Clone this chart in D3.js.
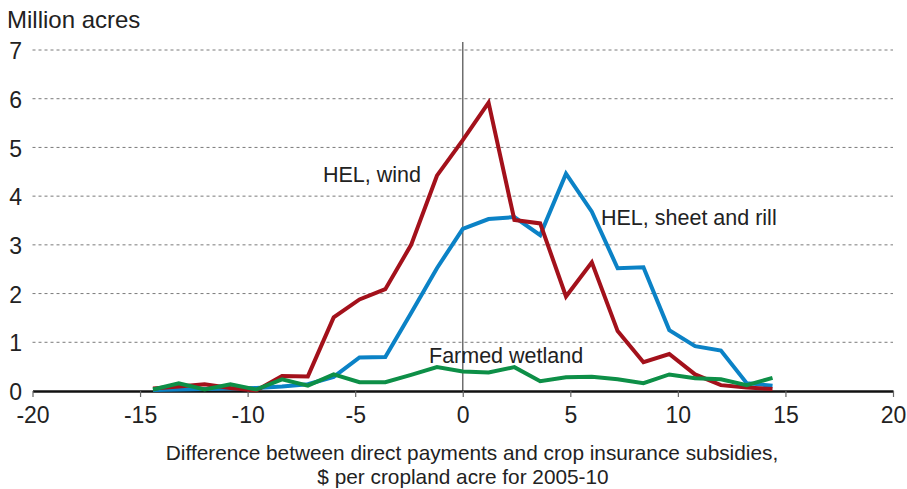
<!DOCTYPE html>
<html>
<head>
<meta charset="utf-8">
<script src="https://cdn.jsdelivr.net/npm/d3@7"></script>
<style>
    body { margin: 0; background: #fff; }
    svg { display: block; font-family: "Liberation Sans", Arial, sans-serif; }
</style>
</head>
<body>
<div id="chart"></div>
<script>
// bins of $1.2 per acre, from -14.4 to 14.4
const binIndex = d3.range(-12, 13);
const xValues = binIndex.map(k => +(k * 1.2).toFixed(1));

const helWind = [0.05, 0.09, 0.14, 0.06, 0.01, 0.31, 0.30, 1.51, 1.88, 2.09, 3.00, 4.42, 5.15,
    5.92, 3.51, 3.44, 1.94, 2.64, 1.23, 0.59, 0.76, 0.34, 0.12, 0.07, 0.04];
const helSheet = [0.02, 0.03, 0.04, 0.05, 0.06, 0.09, 0.14, 0.29, 0.69, 0.70, 1.60, 2.52, 3.33,
    3.53, 3.57, 3.20, 4.46, 3.68, 2.52, 2.54, 1.25, 0.92, 0.83, 0.16, 0.11];
const wetland = [0.03, 0.16, 0.03, 0.14, 0.03, 0.24, 0.11, 0.34, 0.18, 0.18, 0.33, 0.49, 0.40,
    0.38, 0.49, 0.20, 0.28, 0.29, 0.24, 0.16, 0.34, 0.26, 0.24, 0.12, 0.27];

const xTicks = [-20, -15, -10, -5, 0, 5, 10, 15, 20];
const yTicks = [0, 1, 2, 3, 4, 5, 6, 7];

const series = [
    {name: "HEL, sheet and rill", values: helSheet, color: "#0b82c6"},
    {name: "HEL, wind", values: helWind, color: "#a3111b"},
    {name: "Farmed wetland", values: wetland, color: "#0d8f47"}
];

const W = 907, H = 489;
const x = d3.scaleLinear().domain([-20, 20]).range([32.5, 893]);
const y = d3.scaleLinear().domain([0, 7]).range([391, 50]);

const svg = d3.select("#chart").append("svg")
    .attr("width", W)
    .attr("height", H);

// gridlines
svg.append("g")
    .selectAll("line")
    .data(yTicks.filter(d => d > 0))
    .enter().append("line")
    .attr("x1", x(-20))
    .attr("x2", x(20))
    .attr("y1", d => y(d))
    .attr("y2", d => y(d))
    .attr("stroke", "#7a7a7a")
    .attr("stroke-width", 1)
    .attr("stroke-dasharray", "3,3");

// y labels
svg.append("g")
    .attr("font-size", 23)
    .attr("fill", "#222")
    .attr("text-anchor", "end")
    .selectAll("text")
    .data(yTicks)
    .enter().append("text")
    .attr("x", 22)
    .attr("y", d => y(d))
    .attr("dy", "0.4em")
    .text(d => d);

svg.append("text")
    .attr("x", 7)
    .attr("y", 28)
    .attr("font-size", 24)
    .attr("fill", "#222")
    .text("Million acres");

// zero line
svg.append("line")
    .attr("x1", x(0)).attr("x2", x(0))
    .attr("y1", 42).attr("y2", y(0))
    .attr("stroke", "#6e6e6e")
    .attr("stroke-width", 1.5);

// x axis
const xAxis = svg.append("g")
    .attr("transform", "translate(0," + y(0) + ")")
    .call(d3.axisBottom(x).tickValues(xTicks).tickFormat(d => String(d))
        .tickSize(6).tickPadding(10).tickSizeOuter(0));
xAxis.select(".domain").attr("stroke", "#111").attr("stroke-width", 2.5);
xAxis.selectAll(".tick line").attr("stroke", "#666").attr("stroke-width", 1.2);
xAxis.selectAll(".tick text")
    .attr("font-size", 23)
    .attr("fill", "#222")
    .attr("font-family", "Liberation Sans, Arial, sans-serif");

const line = d3.line()
    .x((d, i) => x(xValues[i]))
    .y(d => y(d));

svg.append("g")
    .selectAll("path")
    .data(series)
    .enter().append("path")
    .attr("d", d => line(d.values))
    .attr("fill", "none")
    .attr("stroke", d => d.color)
    .attr("stroke-width", 4)
    .attr("stroke-linejoin", "miter");

// series labels
const labels = [
    {text: "HEL, wind", x: 323, y: 182},
    {text: "HEL, sheet and rill", x: 601, y: 225},
    {text: "Farmed wetland", x: 429, y: 363}
];
svg.append("g")
    .attr("font-size", 21.5)
    .attr("fill", "#222")
    .selectAll("text")
    .data(labels)
    .enter().append("text")
    .attr("x", d => d.x)
    .attr("y", d => d.y)
    .text(d => d.text);

// x title
svg.append("text")
    .attr("x", 472)
    .attr("y", 460)
    .attr("font-size", 20.8)
    .attr("fill", "#222")
    .attr("text-anchor", "middle")
    .text("Difference between direct payments and crop insurance subsidies,");
svg.append("text")
    .attr("x", 463)
    .attr("y", 484)
    .attr("font-size", 20.8)
    .attr("fill", "#222")
    .attr("text-anchor", "middle")
    .text("$ per cropland acre for 2005-10");
</script>
</body>
</html>
